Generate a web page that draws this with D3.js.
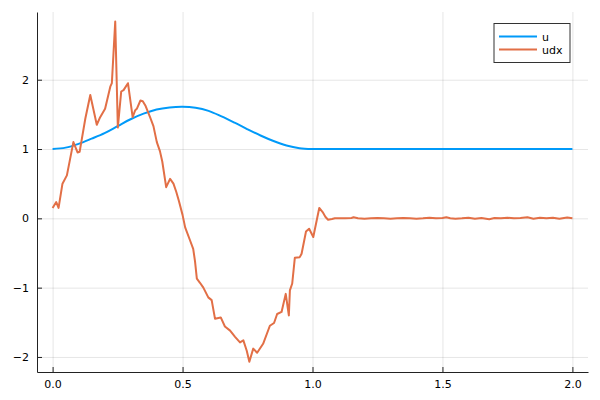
<!DOCTYPE html>
<html>
<head>
<meta charset="utf-8">
<script src="https://cdn.jsdelivr.net/npm/d3@7"></script>
<style>
  body { margin: 0; background: #fff; }
  text { font-family: "DejaVu Sans", sans-serif; }
</style>
</head>
<body>
<div id="chart"></div>
<script>
// u: smooth bump
const uX = [0, 0.05, 0.1, 0.15, 0.2, 0.25, 0.3, 0.35, 0.4, 0.45, 0.5, 0.55, 0.6, 0.65, 0.7, 0.75, 0.8, 0.85, 0.9, 0.95, 1.0,
            1.1, 1.2, 1.3, 1.4, 1.5, 1.6, 1.7, 1.8, 1.9, 2.0];
const uY = [1.0, 1.02, 1.075, 1.15, 1.23, 1.33, 1.43, 1.51, 1.57, 1.60, 1.61, 1.595, 1.55, 1.47, 1.38, 1.285, 1.195, 1.115, 1.05, 1.012, 1.0,
            1.0, 1.0, 1.0, 1.0, 1.0, 1.0, 1.0, 1.0, 1.0, 1.0];

// udx: noisy derivative
const udxX = [0.0, 0.014, 0.023, 0.038, 0.055, 0.08, 0.096, 0.104, 0.126, 0.145, 0.170, 0.183, 0.202, 0.222, 0.228, 0.241, 0.251,
              0.264, 0.273, 0.290, 0.308, 0.318, 0.324, 0.338, 0.347, 0.358, 0.375, 0.388, 0.401, 0.413, 0.422, 0.437, 0.452,
              0.465, 0.476, 0.486, 0.50, 0.51, 0.529, 0.541, 0.548, 0.555, 0.567, 0.580, 0.599, 0.612, 0.625, 0.647, 0.663,
              0.683, 0.702, 0.721, 0.734, 0.747, 0.757, 0.772, 0.787, 0.810, 0.836, 0.852, 0.864, 0.881, 0.897, 0.909, 0.913,
              0.922, 0.932, 0.951, 0.958, 0.975, 0.987, 1.003, 1.026, 1.039, 1.050, 1.060, 1.075, 1.086,
              1.10, 1.125, 1.15, 1.158, 1.175, 1.20, 1.225, 1.25, 1.275, 1.30, 1.325, 1.35, 1.375, 1.40, 1.425, 1.45, 1.475,
              1.50, 1.515, 1.53, 1.55, 1.575, 1.60, 1.625, 1.65, 1.68, 1.70, 1.725, 1.75, 1.775, 1.80, 1.827, 1.85, 1.875,
              1.90, 1.925, 1.95, 1.98, 2.0];
const udxY = [0.15, 0.235, 0.15, 0.50, 0.62, 1.10, 0.95, 0.96, 1.44, 1.78, 1.35, 1.46, 1.58, 1.90, 1.95, 2.84, 1.31,
              1.83, 1.85, 1.95, 1.46, 1.56, 1.58, 1.70, 1.69, 1.62, 1.46, 1.33, 1.10, 0.97, 0.82, 0.45, 0.57,
              0.50, 0.38, 0.25, 0.05, -0.13, -0.32, -0.44, -0.62, -0.87, -0.93, -1.00, -1.14, -1.18, -1.45, -1.43, -1.56,
              -1.62, -1.71, -1.79, -1.76, -1.91, -2.07, -1.88, -1.94, -1.81, -1.55, -1.51, -1.38, -1.35, -1.09, -1.40, -1.04,
              -0.94, -0.57, -0.56, -0.51, -0.19, -0.15, -0.27, 0.15, 0.09, 0.02, -0.02, -0.01, 0.0,
              0.0, 0.0, 0.005, 0.015, 0.0, -0.005, 0.0, 0.005, 0.0, -0.005, 0.0, 0.005, 0.0, -0.005, 0.0, 0.01, 0.0,
              0.005, 0.015, 0.0, -0.005, 0.0, 0.01, -0.005, 0.005, -0.012, 0.005, 0.0, 0.01, 0.0, 0.005, 0.015, -0.005, 0.01,
              0.0, 0.01, -0.005, 0.012, 0.0];

const xTicks = [0, 0.5, 1.0, 1.5, 2.0];
const yTicks = [-2, -1, 0, 1, 2];
const seriesNames = ["u", "udx"];
const colors = ["#009af9", "#e26f46"];

const WIDTH = 600, HEIGHT = 400;
const PLOT = {LEFT: 37, RIGHT: 588, TOP: 12, BOTTOM: 372};

const svg = d3.select("#chart")
    .append("svg")
        .attr("width", WIDTH)
        .attr("height", HEIGHT);

const x = d3.scaleLinear().domain([-0.06, 2.06]).range([PLOT.LEFT, PLOT.RIGHT]);
const y = d3.scaleLinear().domain([-2.217, 2.977]).range([PLOT.BOTTOM, PLOT.TOP]);

// Grid
svg.append("g")
    .attr("transform", `translate(0, ${PLOT.BOTTOM})`)
    .call(d3.axisBottom(x).tickValues(xTicks).tickSize(-(PLOT.BOTTOM - PLOT.TOP)).tickFormat(""))
    .call(g => g.select(".domain").remove())
    .call(g => g.selectAll("line").attr("stroke", "#000").attr("stroke-opacity", 0.1));
svg.append("g")
    .attr("transform", `translate(${PLOT.LEFT}, 0)`)
    .call(d3.axisLeft(y).tickValues(yTicks).tickSize(-(PLOT.RIGHT - PLOT.LEFT)).tickFormat(""))
    .call(g => g.select(".domain").remove())
    .call(g => g.selectAll("line").attr("stroke", "#000").attr("stroke-opacity", 0.1));

// Axes
svg.append("g")
    .attr("transform", `translate(0, ${PLOT.BOTTOM})`)
    .call(d3.axisBottom(x).tickValues(xTicks).tickSizeInner(-5).tickSizeOuter(0).tickPadding(8).tickFormat(d3.format(".1f")))
    .call(g => g.select(".domain").attr("stroke", "#222"))
    .call(g => g.selectAll("line").attr("stroke", "#222"))
    .call(g => g.selectAll("text").attr("font-size", 11).attr("fill", "#000").attr("font-family", "DejaVu Sans"));
svg.append("g")
    .attr("transform", `translate(${PLOT.LEFT}, 0)`)
    .call(d3.axisLeft(y).tickValues(yTicks).tickSizeInner(-5).tickSizeOuter(0).tickPadding(8).tickFormat(d3.format("d")))
    .call(g => g.select(".domain").attr("stroke", "#222"))
    .call(g => g.selectAll("line").attr("stroke", "#222"))
    .call(g => g.selectAll("text").attr("font-size", 11).attr("fill", "#000").attr("font-family", "DejaVu Sans"));

// Lines
const uData = d3.zip(uX, uY);
const udxData = d3.zip(udxX, udxY);

svg.append("path")
    .datum(uData)
    .attr("fill", "none")
    .attr("stroke", colors[0])
    .attr("stroke-width", 2)
    .attr("d", d3.line().x(d => x(d[0])).y(d => y(d[1])).curve(d3.curveCatmullRom));

svg.append("path")
    .datum(udxData)
    .attr("fill", "none")
    .attr("stroke", colors[1])
    .attr("stroke-width", 2)
    .attr("stroke-linejoin", "round")
    .attr("d", d3.line().x(d => x(d[0])).y(d => y(d[1])));

// Legend
const legend = svg.append("g").attr("transform", "translate(494, 23.5)");
legend.append("rect")
    .attr("width", 76)
    .attr("height", 39)
    .attr("fill", "#fff")
    .attr("stroke", "#333")
    .attr("stroke-width", 1);
seriesNames.forEach((name, i) => {
    const ly = 13 + i * 13;
    legend.append("line")
        .attr("x1", 5).attr("x2", 43)
        .attr("y1", ly).attr("y2", ly)
        .attr("stroke", colors[i])
        .attr("stroke-width", 2);
    legend.append("text")
        .attr("x", 48)
        .attr("y", ly + 4)
        .attr("font-size", 11)
        .attr("fill", "#000")
        .text(name);
});
</script>
</body>
</html>
